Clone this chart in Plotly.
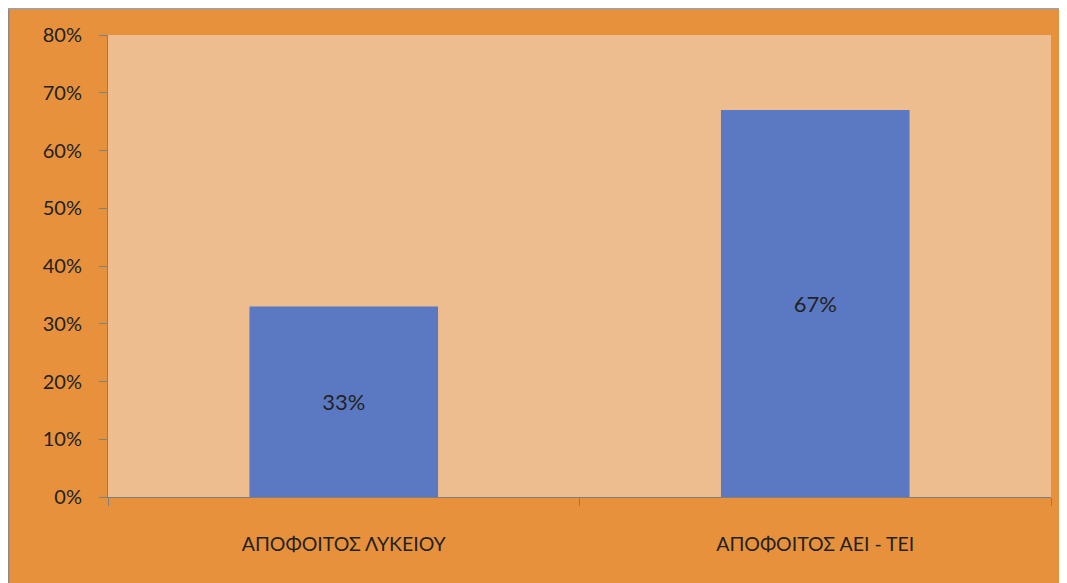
import plotly.graph_objects as go

categories = ["ΑΠΟΦΟΙΤΟΣ ΛΥΚΕΙΟΥ", "ΑΠΟΦΟΙΤΟΣ ΑΕΙ - ΤΕΙ"]
values = [0.33, 0.67]
labels = ["33%", "67%"]
ytick_vals = [0, 0.1, 0.2, 0.3, 0.4, 0.5, 0.6, 0.7, 0.8]
ytick_text = ["0%", "10%", "20%", "30%", "40%", "50%", "60%", "70%", "80%"]

W, H = 1059, 575
L, R, T, B = 100, 16, 27, 86
PW, PH = W - L - R, H - T - B

fig = go.Figure(go.Bar(
    x=categories, y=values, text=labels,
    textposition="inside", insidetextanchor="middle",
    textfont=dict(color="#222222", size=22, family="Lato, Open Sans, sans-serif"),
    marker=dict(color="#5B79C2", line=dict(width=0)),
))

fig.update_layout(
    width=W, height=H,
    margin=dict(l=L, r=R, t=T, b=B),
    paper_bgcolor="#E8913D",
    plot_bgcolor="#EDBD90",
    bargap=0.6,
    showlegend=False,
    font=dict(family="Lato, Open Sans, sans-serif", color="#222222"),
    shapes=[
        dict(type="line", xref="paper", yref="paper", x0=-L / PW + 0.0005, x1=-L / PW + 0.0005,
             y0=-B / PH, y1=1 + T / PH,
             line=dict(color="#8a8a8a", width=2), layer="above"),
        dict(type="line", xref="paper", yref="paper", x0=-L / PW, x1=1 + R / PW,
             y0=1 + T / PH - 0.001, y1=1 + T / PH - 0.001,
             line=dict(color="#a0a0a0", width=2), layer="above"),
    ],
)

fig.update_xaxes(
    showline=True, linecolor="#7f7f7f", linewidth=1,
    ticks="outside", tickson="boundaries", ticklen=8, tickcolor="#7f7f7f",
    tickfont=dict(size=19.5, color="#222222"), ticklabelstandoff=30,
    showgrid=False,
)
fig.update_yaxes(
    range=[0, 0.8], tickvals=ytick_vals, ticktext=ytick_text,
    showline=True, linecolor="#7f7f7f", linewidth=1,
    ticks="outside", ticklen=8, tickcolor="#7f7f7f",
    tickfont=dict(size=20, color="#222222"), ticklabelstandoff=13,
    showgrid=False, zeroline=False,
)

fig.write_html("out.html")
